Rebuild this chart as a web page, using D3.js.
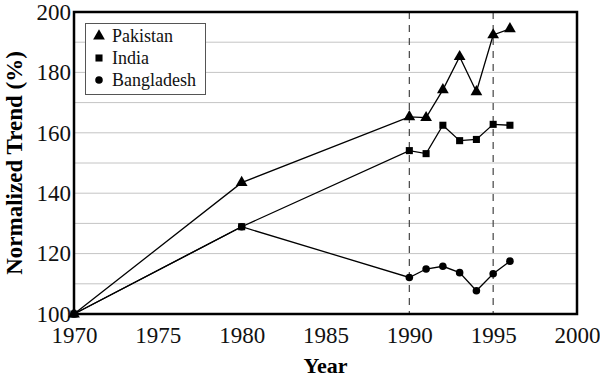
<!DOCTYPE html>
<html><head><meta charset="utf-8">
<script src="https://cdn.jsdelivr.net/npm/d3@7"></script>
<style>body{margin:0;background:#fff}svg{display:block}</style>
</head><body>
<script>
const years = [1970, 1980, 1990, 1991, 1992, 1993, 1994, 1995, 1996];
const pakistan = [100, 143.5, 165.3, 165.0, 174.2, 185.2, 173.6, 192.4, 194.4];
const india = [100, 128.9, 154.1, 153.1, 162.5, 157.4, 157.8, 162.8, 162.5];
const bangladesh = [100, 128.9, 112.1, 114.9, 115.8, 113.7, 107.7, 113.3, 117.5];
const seriesNames = ["Pakistan", "India", "Bangladesh"];
const xTicks = [1970, 1975, 1980, 1985, 1990, 1995, 2000];
const yTicks = [100, 120, 140, 160, 180, 200];
const dashedYears = [1990, 1995];

const W = 600, H = 381;
const m = {left: 74, right: 23, top: 12, bottom: 67};
const svg = d3.select("body").append("svg").attr("width", W).attr("height", H);
const x = d3.scaleLinear().domain([1970, 2000]).range([m.left, W - m.right]);
const y = d3.scaleLinear().domain([100, 200]).range([H - m.bottom, m.top]);
const font = "'Liberation Serif', 'Times New Roman', serif";

// grid
svg.append("g").selectAll("line").data(d3.range(110, 200, 10)).join("line")
  .attr("x1", x(1970)).attr("x2", x(2000)).attr("y1", d => y(d)).attr("y2", d => y(d))
  .attr("stroke", "#c4c4c4").attr("stroke-width", 1);

// dashed
svg.append("g").selectAll("line").data(dashedYears).join("line")
  .attr("x1", d => x(d)).attr("x2", d => x(d)).attr("y1", y(200)).attr("y2", y(100))
  .attr("stroke", "#444").attr("stroke-width", 1.2).attr("stroke-dasharray", "7,6");

// axes
const xAxis = svg.append("g").attr("transform", `translate(0,${y(100)})`)
  .call(d3.axisBottom(x).tickValues(xTicks).tickFormat(d3.format("d")).tickSize(0).tickPadding(13));
const yAxis = svg.append("g").attr("transform", `translate(${x(1970)},0)`)
  .call(d3.axisLeft(y).tickValues(yTicks).tickFormat(d3.format("d")).tickSize(0).tickPadding(3));
[xAxis, yAxis].forEach(a => {
  a.select(".domain").remove();
  a.selectAll("text").attr("font-family", font).attr("font-size", 23).attr("fill", "#111");
});

// frame
svg.append("rect").attr("x", x(1970)).attr("y", y(200)).attr("width", x(2000) - x(1970)).attr("height", y(100) - y(200))
  .attr("fill", "none").attr("stroke", "#000").attr("stroke-width", 2.5);

// series
const data = [pakistan, india, bangladesh];
const line = d3.line().x((d, i) => x(years[i])).y(d => y(d));
const sym = [d3.symbolTriangle, d3.symbolSquare, d3.symbolCircle];
const sizes = [60, 50, 45];
data.forEach((s, k) => {
  svg.append("path").datum(s).attr("d", line).attr("fill", "none").attr("stroke", "#000").attr("stroke-width", 1.3);
  svg.append("g").selectAll("path").data(s).join("path")
    .attr("transform", (d, i) => `translate(${x(years[i])},${y(d)})`)
    .attr("d", d3.symbol().type(sym[k]).size(sizes[k])).attr("fill", "#000");
});

// legend
const lg = svg.append("g");
lg.append("rect").attr("x", 85.5).attr("y", 23.5).attr("width", 120).attr("height", 71)
  .attr("fill", "#fff").attr("stroke", "#555").attr("stroke-width", 1);
seriesNames.forEach((n, k) => {
  const cy = 36 + k * 22;
  lg.append("path").attr("transform", `translate(99,${cy})`).attr("d", d3.symbol().type(sym[k]).size(sizes[k])).attr("fill", "#000");
  lg.append("text").attr("x", 112).attr("y", cy + 6).text(n)
    .attr("font-family", font).attr("font-size", 18).attr("fill", "#111");
});

// titles
svg.append("text").attr("x", (x(1970) + x(2000)) / 2).attr("y", 373).attr("text-anchor", "middle")
  .attr("font-family", font).attr("font-weight", "bold").attr("font-size", 22).text("Year");
svg.append("text").attr("transform", `translate(22,${(y(100) + y(200)) / 2}) rotate(-90)`).attr("text-anchor", "middle")
  .attr("font-family", font).attr("font-weight", "bold").attr("font-size", 23).text("Normalized Trend (%)");
</script>
</body></html>
